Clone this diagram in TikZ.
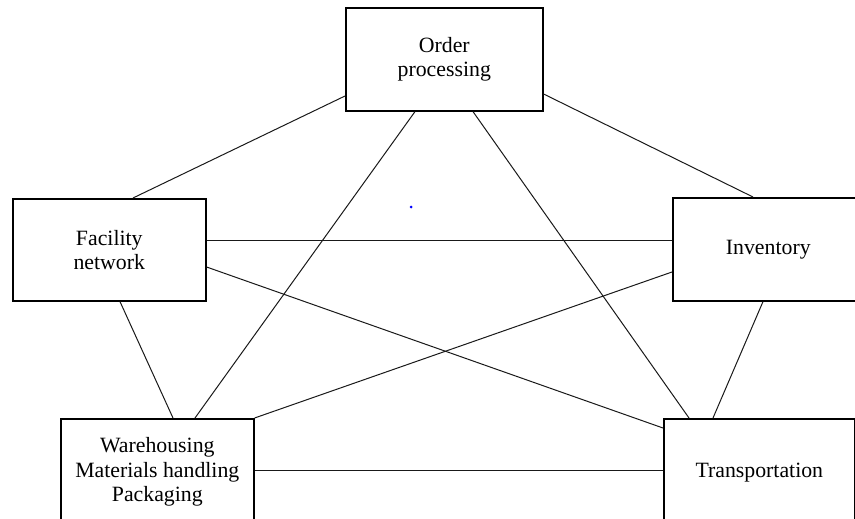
\documentclass[tikz,border=0pt]{standalone}
\usepackage{fontspec}
\setmainfont{Liberation Serif}
\usetikzlibrary{calc}
\begin{document}
\begin{tikzpicture}[x=1pt,y=-1pt,
  box/.style={draw=black, line width=1.6pt, rectangle, anchor=north west, align=center,
    inner sep=0pt, font=\fontsize{21.8}{24.5}\selectfont},
  link/.style={draw=black!90, line width=1pt}]
\useasboundingbox (0,0) rectangle (855,519);
\clip (0,0) rectangle (855,519);
\node[box, minimum width=197pt, minimum height=103pt] (ord) at (345,7) {Order\\processing};
\node[box, minimum width=193pt, minimum height=102pt] (fac) at (12,198) {Facility\\network};
\node[box, minimum width=191pt, minimum height=103pt] (inv) at (672,197) {Inventory};
\node[box, minimum width=193pt, minimum height=106pt] (war) at (60,418) {Warehousing\\Materials handling\\Packaging};
\node[box, minimum width=191pt, minimum height=108pt] (tra) at (663,418) {Transportation};
% connectors
\draw[link] ($(ord.north west)+(0,89)$) -- ($(fac.north west)+(121,0)$);
\draw[link] ($(ord.north east)+(0,87)$) -- ($(inv.north west)+(81,0)$);
\draw[link] ($(ord.south west)+(70,0)$) -- ($(war.north west)+(135,0)$);
\draw[link] ($(ord.south west)+(128,0)$) -- ($(tra.north west)+(26,0)$);
\draw[link] ($(fac.north east)+(0,42)$) -- ($(inv.north west)+(0,43)$);
\draw[link] ($(fac.north east)+(0,69)$) -- ($(tra.north west)+(0,10)$);
\draw[link] ($(fac.south west)+(108,0)$) -- ($(war.north west)+(113,0)$);
\draw[link] ($(inv.north west)+(0,75)$) -- (war.north east);
\draw[link] ($(inv.south west)+(91,0)$) -- ($(tra.north west)+(50,0)$);
\draw[link] ($(war.north east)+(0,52)$) -- ($(tra.north west)+(0,52)$);
% small blue dot
\fill[blue] (411,207) circle (1.5pt);
\end{tikzpicture}
\end{document}
